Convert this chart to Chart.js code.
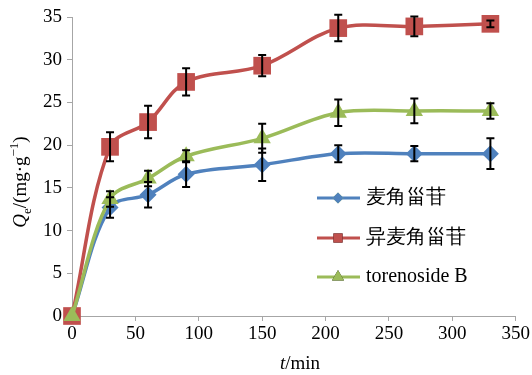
<!DOCTYPE html>
<html>
<head>
<meta charset="utf-8">
<script src="https://cdn.jsdelivr.net/npm/chart.js@4.4.0/dist/chart.umd.min.js"></script>
<style>
  body { margin: 0; background: #fff; }
  #wrap { width: 532px; height: 375px; }
</style>
</head>
<body>
<div id="wrap"><canvas id="chart" width="532" height="375"></canvas></div>
<script>
const times = [0, 30, 60, 90, 150, 210, 270, 330];

const maijiao = [0, 12.7, 14.2, 16.6, 17.7, 19.0, 19.0, 19.0];
const maijiaoErr = [0, 1.2, 1.5, 1.5, 1.9, 1.0, 0.9, 1.8];

const yimaijiao = [0, 19.8, 22.7, 27.4, 29.3, 33.7, 33.9, 34.2];
const yimaijiaoErr = [0, 1.7, 1.9, 1.6, 1.25, 1.55, 1.15, 0.4];

const torenoside = [0, 13.7, 16.1, 18.7, 20.8, 23.8, 24.0, 24.0];
const torenosideErr = [0, 0.9, 0.9, 0.7, 1.7, 1.55, 1.45, 0.9];

const xTicks = [0, 50, 100, 150, 200, 250, 300, 350];
const yTicks = [0, 5, 10, 15, 20, 25, 30, 35];

const serif = "Liberation Serif";
Chart.defaults.font.family = serif;
Chart.defaults.font.size = 19;
Chart.defaults.color = "#000";

function pts(vals) {
  return times.map((t, i) => ({ x: t, y: vals[i] }));
}

// error bars, drawn on top of the markers
const errorBars = {
  id: "errorBars",
  afterDatasetsDraw(chart) {
    const ctx = chart.ctx;
    const xs = chart.scales.x, ys = chart.scales.y;
    ctx.save();
    ctx.strokeStyle = "#000";
    ctx.lineWidth = 2;
    chart.data.datasets.forEach(ds => {
      ds.data.forEach((p, i) => {
        const e = ds.errors[i];
        if (!e) return;
        const x = xs.getPixelForValue(p.x);
        const top = ys.getPixelForValue(p.y + e);
        const bot = ys.getPixelForValue(p.y - e);
        ctx.beginPath();
        ctx.moveTo(x, top); ctx.lineTo(x, bot);
        ctx.moveTo(x - 4, top); ctx.lineTo(x + 4, top);
        ctx.moveTo(x - 4, bot); ctx.lineTo(x + 4, bot);
        ctx.stroke();
      });
    });
    ctx.restore();
  }
};

// legend inside the plot + axis titles with italic / sub / sup parts
const extras = {
  id: "extras",
  afterDraw(chart) {
    const ctx = chart.ctx;
    ctx.save();

    // legend
    const legendY = [198, 238, 277];
    chart.data.datasets.forEach((ds, i) => {
      const y = legendY[i];
      ctx.strokeStyle = ds.borderColor;
      ctx.lineWidth = 3;
      ctx.beginPath();
      ctx.moveTo(317, y); ctx.lineTo(360, y);
      ctx.stroke();
      Chart.helpers.drawPoint(ctx, {
        pointStyle: ds.pointStyle,
        radius: ds.legendRadius,
        borderWidth: 0
      }, 338, y);
      ctx.fillStyle = ds.backgroundColor;
      ctx.fill();
      ctx.fillStyle = "#000";
      ctx.font = "20px " + serif;
      ctx.textBaseline = "middle";
      ctx.textAlign = "left";
      ctx.fillText(ds.label, 366, y);
    });

    // x title: t/min
    ctx.fillStyle = "#000";
    ctx.textBaseline = "alphabetic";
    ctx.font = "italic 19px " + serif;
    const w1 = ctx.measureText("t").width;
    ctx.font = "19px " + serif;
    const w2 = ctx.measureText("/min").width;
    let x0 = 300 - (w1 + w2) / 2;
    ctx.font = "italic 19px " + serif;
    ctx.fillText("t", x0, 369);
    ctx.font = "19px " + serif;
    ctx.fillText("/min", x0 + w1, 369);

    // y title: Qe/(mg·g-1)
    const parts = [
      { t: "Q", f: "italic 19px " + serif, dy: 0 },
      { t: "e", f: "13px " + serif, dy: 5 },
      { t: "/(mg·g", f: "19px " + serif, dy: 0 },
      { t: "\u22121", f: "13px " + serif, dy: -8 },
      { t: ")", f: "19px " + serif, dy: 0 }
    ];
    let total = 0;
    parts.forEach(p => { ctx.font = p.f; p.w = ctx.measureText(p.t).width; total += p.w; });
    ctx.translate(26, 182);
    ctx.rotate(-Math.PI / 2);
    let cx = -total / 2;
    parts.forEach(p => {
      ctx.font = p.f;
      ctx.fillText(p.t, cx, p.dy);
      cx += p.w;
    });
    ctx.restore();
  }
};

new Chart(document.getElementById("chart"), {
  type: "line",
  data: {
    datasets: [
      {
        label: "麦角甾苷",
        data: pts(maijiao),
        errors: maijiaoErr,
        borderColor: "#4F81BD",
        backgroundColor: "#4F81BD",
        pointStyle: "rectRot",
        pointRadius: 8.5,
        legendRadius: 5.5,
        order: 3
      },
      {
        label: "异麦角甾苷",
        data: pts(yimaijiao),
        errors: yimaijiaoErr,
        borderColor: "#C0504D",
        backgroundColor: "#C0504D",
        pointStyle: "rect",
        pointRadius: 12.5,
        legendRadius: 6.5,
        order: 2
      },
      {
        label: "torenoside B",
        data: pts(torenoside),
        errors: torenosideErr,
        borderColor: "#9BBB59",
        backgroundColor: "#9BBB59",
        pointStyle: "triangle",
        pointRadius: 10,
        legendRadius: 7,
        order: 1
      }
    ]
  },
  options: {
    responsive: false,
    animation: false,
    layout: { padding: { top: 17, right: 16, left: 0, bottom: 0 } },
    datasets: { line: { clip: false } },
    elements: {
      line: { borderWidth: 3.5, tension: 0.35, fill: false },
      point: { borderWidth: 0, hoverRadius: 0 }
    },
    plugins: {
      legend: { display: false },
      tooltip: { enabled: false }
    },
    scales: {
      x: {
        type: "linear",
        min: 0,
        max: 350,
        afterBuildTicks: s => { s.ticks = xTicks.map(v => ({ value: v })); },
        afterFit: s => { s.height = 59; },
        border: { color: "#a6a6a6", width: 1 },
        grid: { display: true, drawOnChartArea: false, drawTicks: true, tickLength: 5, color: "#a6a6a6" },
        ticks: { color: "#000", font: { family: serif, size: 19 }, padding: 2, maxRotation: 0 }
      },
      y: {
        min: 0,
        max: 35,
        afterBuildTicks: s => { s.ticks = yTicks.map(v => ({ value: v })); },
        afterFit: s => { s.width = 72; },
        border: { color: "#a6a6a6", width: 1 },
        grid: { display: true, drawOnChartArea: false, drawTicks: true, tickLength: 5, color: "#a6a6a6" },
        ticks: { color: "#000", font: { family: serif, size: 19 }, padding: 5 }
      }
    }
  },
  plugins: [errorBars, extras]
});
</script>
</body>
</html>
